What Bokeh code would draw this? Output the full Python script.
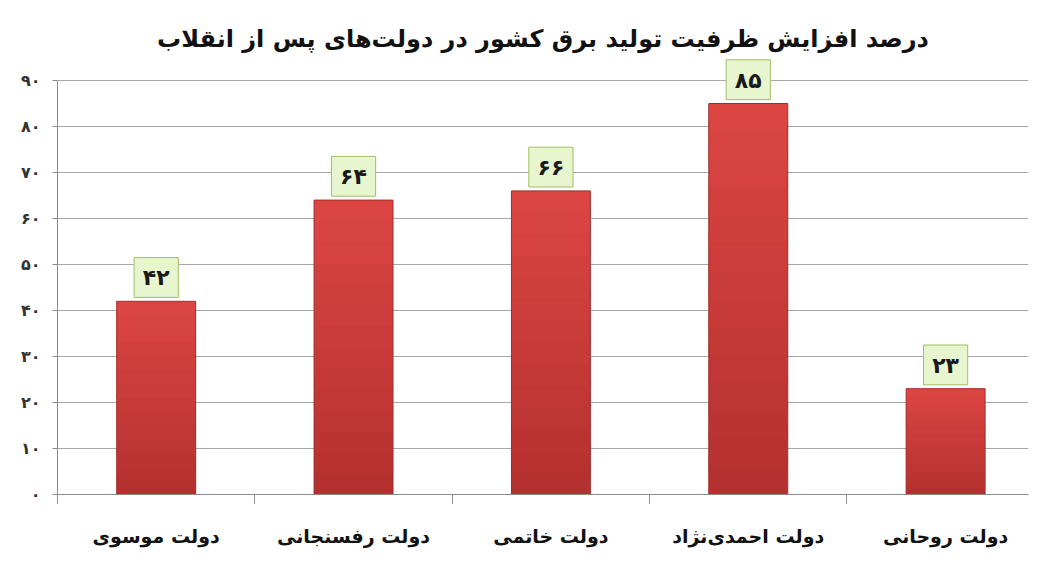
from bokeh.plotting import figure
from bokeh.models import Range1d, FixedTicker, ColumnDataSource
from bokeh.core.properties import value
from bokeh.embed import file_html
from bokeh.resources import INLINE

title_text = "درصد افزایش ظرفیت تولید برق کشور در دولت‌های پس از انقلاب"
categories = ["دولت موسوی", "دولت رفسنجانی", "دولت خاتمی", "دولت احمدی‌نژاد", "دولت روحانی"]
values = [42, 64, 66, 85, 23]
value_labels = ["۴۲", "۶۴", "۶۶", "۸۵", "۲۳"]
y_ticks = [0, 10, 20, 30, 40, 50, 60, 70, 80, 90]
y_tick_labels = ["۰", "۱۰", "۲۰", "۳۰", "۴۰", "۵۰", "۶۰", "۷۰", "۸۰", "۹۰"]

FONT = "DejaVu Sans"

xs = [i + 0.5 for i in range(len(categories))]
src = ColumnDataSource(dict(
    x=xs,
    v=values,
    lab=value_labels,
    bl=[x - 0.112 for x in xs],
    br=[x + 0.112 for x in xs],
    bb=[v + 0.85 for v in values],
    bt=[v + 9.5 for v in values],
    ty=[v + 5.1 for v in values],
))

p = figure(width=1036, height=564, output_backend="svg", toolbar_location=None,
           x_range=Range1d(0, 4.92), y_range=Range1d(0, 95),
           title=title_text)
p.title.align = "center"
p.title.text_font = FONT
p.title.text_font_size = "24px"
p.title.text_font_style = "bold"
p.title.text_color = "#111111"

p.min_border_left = 57
p.min_border_right = 8
p.min_border_bottom = 70
p.min_border_top = 57
p.outline_line_color = None
p.background_fill_color = "white"

p.xgrid.grid_line_color = None
p.ygrid.grid_line_color = "#a8a8a8"
p.ygrid.ticker = FixedTicker(ticks=y_ticks)

# bars: vertical shading in bands (top lighter, bottom darker), bands overlap slightly
n_bands = 14
top_rgb = (0xdc, 0x46, 0x43)
bot_rgb = (0xb4, 0x30, 0x2e)
for k in range(n_bands):
    f0 = k / n_bands
    f1 = min(1.0, (k + 1.3) / n_bands)
    t = (k + 0.5) / n_bands
    c = tuple(int(round(b + (a - b) * t)) for a, b in zip(top_rgb, bot_rgb))
    col = "#%02x%02x%02x" % c
    p.vbar(x=xs, bottom=[v * f0 for v in values], top=[v * f1 for v in values],
           width=0.40, fill_color=col, line_color=None)
# outline of bars
p.vbar(x="x", top="v", bottom=0, width=0.40, source=src,
       fill_color=None, line_color="#a32c2a", line_width=1)

# value label boxes
p.quad(left="bl", right="br", bottom="bb", top="bt", source=src,
       fill_color="#e8f6cf", line_color="#9fbf62", line_width=1)
p.text(x="x", y="ty", text="lab", source=src, text_align="center",
       text_baseline="middle", text_font=value(FONT), text_font_style="bold",
       text_font_size="22px", text_color="#1a1a1a")

# axes
p.yaxis.ticker = FixedTicker(ticks=y_ticks)
p.yaxis.major_label_overrides = {t: l for t, l in zip(y_ticks, y_tick_labels)}
p.yaxis.bounds = (0, 90)
p.yaxis.axis_line_color = "#8c8c8c"
p.yaxis.major_tick_line_color = "#8c8c8c"
p.yaxis.major_tick_out = 5
p.yaxis.major_tick_in = 0
p.yaxis.minor_tick_line_color = None
p.yaxis.major_label_text_font = FONT
p.yaxis.major_label_text_font_style = "bold"
p.yaxis.major_label_text_font_size = "16px"
p.yaxis.major_label_text_color = "#333333"
p.yaxis.major_label_standoff = 12

p.xaxis.ticker = FixedTicker(ticks=xs, minor_ticks=[float(i) for i in range(len(categories) + 1)])
p.xaxis.major_label_overrides = {x: c for x, c in zip(xs, categories)}
p.xaxis.axis_line_color = "#8c8c8c"
p.xaxis.major_tick_line_color = None
p.xaxis.major_tick_out = 0
p.xaxis.major_tick_in = 0
p.xaxis.minor_tick_line_color = "#8c8c8c"
p.xaxis.minor_tick_out = 9
p.xaxis.minor_tick_in = 0
p.xaxis.major_label_text_font = FONT
p.xaxis.major_label_text_font_style = "bold"
p.xaxis.major_label_text_font_size = "19px"
p.xaxis.major_label_text_color = "#111111"
p.xaxis.major_label_standoff = 21

open("out.html", "w").write(file_html(p, INLINE))
